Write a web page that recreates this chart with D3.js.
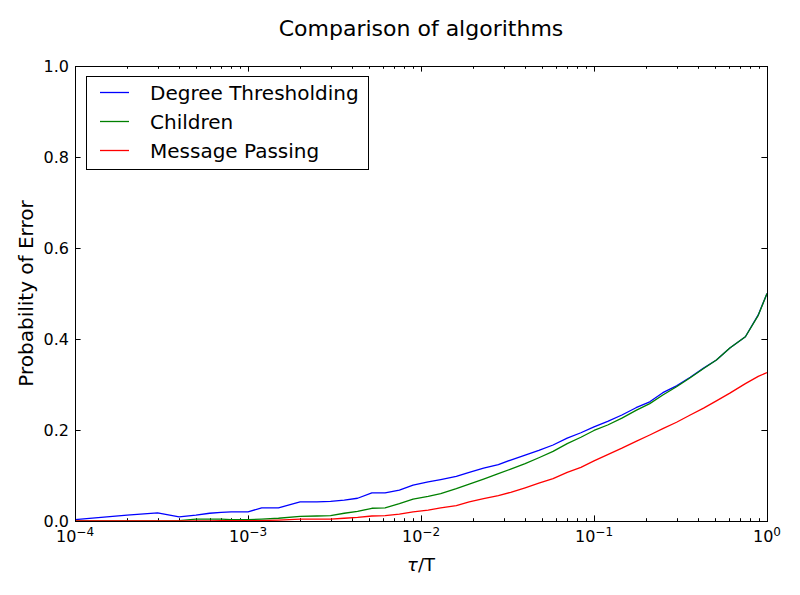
<!DOCTYPE html>
<html>
<head>
<meta charset="utf-8">
<script src="https://cdn.jsdelivr.net/npm/d3@7"></script>
<style>
  body { margin: 0; background: #fff; }
  svg text { font-family: "DejaVu Sans", sans-serif; fill: #000; }
</style>
</head>
<body>
<div id="chart"><svg width="800" height="595"></svg></div>
<script>
// tau/T values shared by all series
const tauRatio = [1e-4, 2e-4, 3e-4, 4e-4, 5e-4, 6e-4, 7e-4, 8e-4, 1e-3, 1.2e-3,
  1.5e-3, 2e-3, 2.5e-3, 3e-3, 3.6e-3, 4.3e-3, 5.2e-3, 6.2e-3, 7.5e-3, 9e-3,
  0.011, 0.013, 0.016, 0.019, 0.023, 0.028, 0.033, 0.04, 0.048, 0.058,
  0.07, 0.084, 0.1, 0.12, 0.145, 0.175, 0.21, 0.25, 0.3, 0.36,
  0.43, 0.51, 0.61, 0.75, 0.89, 1.0];

const degreeThresholding = [0.003, 0.013, 0.018, 0.009, 0.013, 0.017, 0.019, 0.020, 0.020, 0.029,
  0.029, 0.042, 0.042, 0.043, 0.046, 0.050, 0.062, 0.062, 0.068, 0.079,
  0.086, 0.091, 0.098, 0.107, 0.116, 0.124, 0.134, 0.145, 0.155, 0.167,
  0.182, 0.194, 0.207, 0.219, 0.233, 0.249, 0.262, 0.282, 0.297, 0.316,
  0.336, 0.354, 0.380, 0.405, 0.453, 0.500];

const children = [0, 0, 0, 0.001, 0.004, 0.004, 0.004, 0.003, 0.003, 0.004,
  0.006, 0.010, 0.011, 0.012, 0.017, 0.021, 0.028, 0.029, 0.038, 0.048,
  0.054, 0.060, 0.071, 0.081, 0.092, 0.104, 0.114, 0.126, 0.139, 0.153,
  0.170, 0.184, 0.199, 0.211, 0.226, 0.243, 0.258, 0.277, 0.295, 0.315,
  0.335, 0.354, 0.380, 0.405, 0.452, 0.500];

const messagePassing = [0, 0, 0, 0, 0, 0, 0.001, 0.001, 0.001, 0.001,
  0.002, 0.004, 0.004, 0.004, 0.006, 0.008, 0.011, 0.012, 0.015, 0.020,
  0.024, 0.029, 0.034, 0.042, 0.049, 0.056, 0.063, 0.073, 0.083, 0.093,
  0.107, 0.118, 0.132, 0.146, 0.160, 0.175, 0.189, 0.203, 0.217, 0.233,
  0.248, 0.264, 0.281, 0.302, 0.318, 0.326];

const seriesNames = ["Degree Thresholding", "Children", "Message Passing"];
const seriesColors = ["#0000ff", "#008000", "#ff0000"];
const xDecades = [-4, -3, -2, -1, 0];
const yTicks = [0, 0.2, 0.4, 0.6, 0.8, 1.0];

function drawChart() {
    const margin = {top: 66, right: 33, bottom: 74, left: 75};
    const width = 800 - margin.left - margin.right;
    const height = 595 - margin.top - margin.bottom;

    const svg = d3.select("#chart svg");
    const g = svg.append("g")
        .attr("transform", `translate(${margin.left},${margin.top})`);

    const x = d3.scaleLog().domain([1e-4, 1]).range([0, width]);
    const y = d3.scaleLinear().domain([0, 1]).range([height, 0]);

    // ticks point inward on every side, like matplotlib classic
    const majorX = xDecades.map(e => Math.pow(10, e));
    const minorX = [];
    xDecades.slice(0, -1).forEach(e => {
        for (let k = 2; k <= 9; k++) minorX.push(k * Math.pow(10, e));
    });

    const tickG = g.append("g").attr("stroke", "#000").attr("stroke-width", 1);
    [[majorX, 5.6], [minorX, 2.8]].forEach(([vals, len]) => {
        vals.forEach(v => {
            const px = Math.round(x(v)) + 0.5;
            tickG.append("line").attr("x1", px).attr("x2", px).attr("y1", height).attr("y2", height - len);
            tickG.append("line").attr("x1", px).attr("x2", px).attr("y1", 0).attr("y2", len);
        });
    });
    yTicks.forEach(v => {
        const py = Math.round(y(v)) + 0.5;
        tickG.append("line").attr("x1", 0).attr("x2", 5.6).attr("y1", py).attr("y2", py);
        tickG.append("line").attr("x1", width).attr("x2", width - 5.6).attr("y1", py).attr("y2", py);
    });

    // y tick labels
    g.append("g").selectAll("text")
        .data(yTicks)
        .join("text")
        .attr("x", -6)
        .attr("y", d => y(d))
        .attr("dy", "0.36em")
        .attr("text-anchor", "end")
        .style("font-size", "16px")
        .text(d => d.toFixed(1));

    // x tick labels 10^n
    const xl = g.append("g").selectAll("text")
        .data(xDecades)
        .join("text")
        .attr("x", d => x(Math.pow(10, d)))
        .attr("y", height + 21)
        .attr("text-anchor", "middle")
        .style("font-size", "16px");
    xl.append("tspan").text("10");
    xl.append("tspan")
        .attr("dy", -6)
        .style("font-size", "12px")
        .text(d => d < 0 ? "\u2212" + Math.abs(d) : String(d));

    const line = d3.line()
        .x((d, i) => x(tauRatio[i]))
        .y(d => y(d));

    const clip = svg.append("defs").append("clipPath").attr("id", "plotClip");
    clip.append("rect").attr("width", width).attr("height", height);

    const lines = g.append("g").attr("clip-path", "url(#plotClip)");
    [degreeThresholding, children, messagePassing].forEach((vals, i) => {
        lines.append("path")
            .datum(vals)
            .attr("fill", "none")
            .attr("stroke", seriesColors[i])
            .attr("stroke-width", 1.3)
            .attr("stroke-linejoin", "round")
            .attr("d", line);
    });

    // frame
    g.append("rect")
        .attr("x", 0.5).attr("y", 0.5)
        .attr("width", width).attr("height", height)
        .attr("fill", "none")
        .attr("stroke", "#000")
        .attr("stroke-width", 1);

    // legend
    const legend = g.append("g").attr("transform", "translate(11,10)");
    legend.append("rect")
        .attr("x", 0.5).attr("y", 0.5)
        .attr("width", 282).attr("height", 93)
        .attr("fill", "#fff")
        .attr("stroke", "#000")
        .attr("stroke-width", 1);
    seriesNames.forEach((name, i) => {
        const ly = 16.5 + i * 29;
        legend.append("line")
            .attr("x1", 14).attr("x2", 43)
            .attr("y1", ly).attr("y2", ly)
            .attr("stroke", seriesColors[i])
            .attr("stroke-width", 1.3);
        legend.append("text")
            .attr("x", 64)
            .attr("y", ly)
            .attr("dy", "0.36em")
            .style("font-size", "20px")
            .text(name);
    });

    // title and axis labels
    svg.append("text")
        .attr("x", margin.left + width / 2)
        .attr("y", 36)
        .attr("text-anchor", "middle")
        .style("font-size", "22px")
        .text("Comparison of algorithms");

    const xLabel = svg.append("text")
        .attr("x", margin.left + width / 2)
        .attr("y", 571)
        .attr("text-anchor", "middle")
        .style("font-size", "18px");
    xLabel.append("tspan").style("font-style", "italic").text("\u03c4");
    xLabel.append("tspan").text("/T");

    svg.append("text")
        .attr("transform", `translate(33,${margin.top + height / 2}) rotate(-90)`)
        .attr("text-anchor", "middle")
        .style("font-size", "20px")
        .text("Probability of Error");
}

document.addEventListener('DOMContentLoaded', drawChart);
</script>
</body>
</html>
